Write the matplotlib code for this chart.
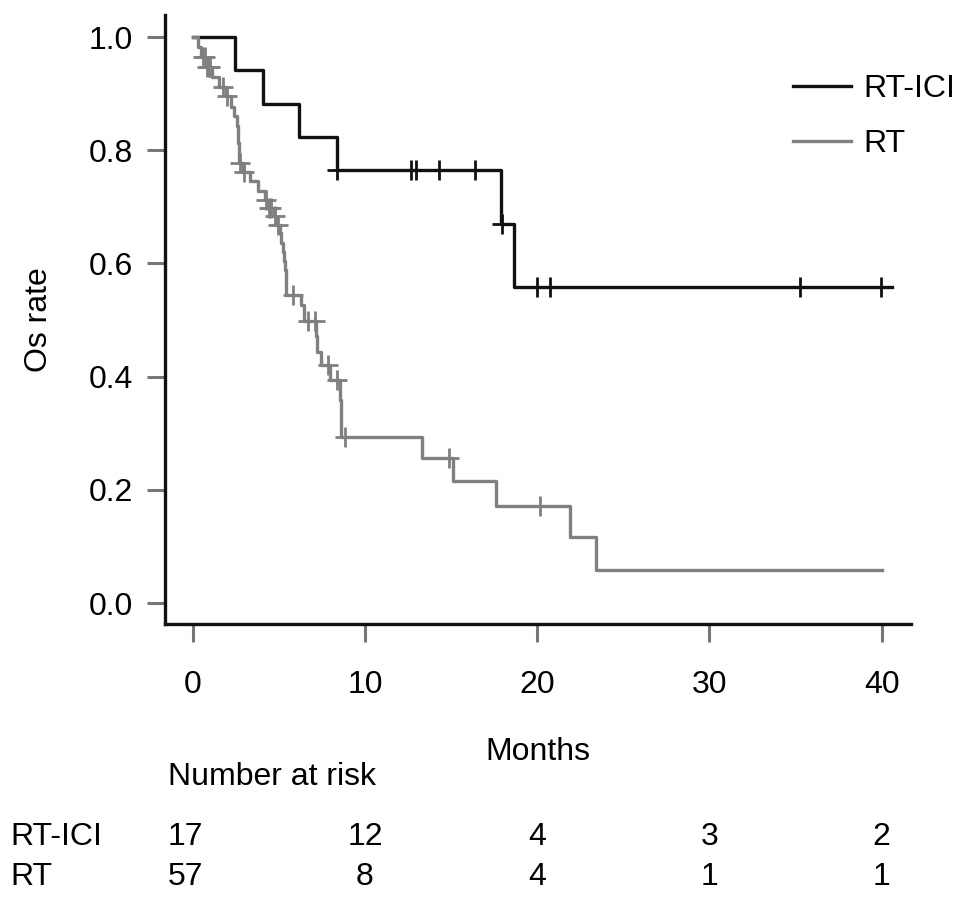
import numpy as np
import matplotlib
matplotlib.use('Agg')
import matplotlib.pyplot as plt
from matplotlib.transforms import blended_transform_factory

plt.rcParams['font.family'] = ['Liberation Sans', 'DejaVu Sans']

# Kaplan-Meier steps (time in months, survival after step)
ici_times = [0.0, 2.44, 4.09, 6.16, 8.38, 17.9, 18.66]
ici_surv = [1.0, 0.941, 0.882, 0.824, 0.765, 0.669, 0.558]
ici_end = 40.6
ici_censor = [8.4, 12.66, 12.95, 14.3, 16.4, 17.96, 19.96, 20.77, 35.25, 39.95]

rt_times = [0.0, 0.3, 0.5, 0.8, 1.1, 1.5, 1.9, 2.2, 2.4, 2.55, 2.65, 2.7, 2.9,
            3.3, 3.8, 4.2, 4.35, 4.7, 4.85, 5.05, 5.15, 5.22, 5.3, 5.35, 5.4,
            6.3, 6.45, 7.18, 7.23, 7.47, 7.95, 8.54, 8.63, 13.3, 15.1, 17.6,
            21.9, 23.4]
rt_surv = [1.0, 0.982, 0.965, 0.947, 0.930, 0.912, 0.895, 0.877, 0.860, 0.842,
           0.812, 0.777, 0.761, 0.745, 0.728, 0.712, 0.698, 0.683, 0.668, 0.653,
           0.637, 0.620, 0.604, 0.588, 0.544, 0.527, 0.499, 0.472, 0.444, 0.420,
           0.394, 0.359, 0.294, 0.257, 0.216, 0.171, 0.116, 0.058]
rt_end = 40.0
rt_censor = [0.6, 0.7, 0.85, 0.95, 1.0, 1.75, 2.0, 2.75, 3.0, 4.25, 4.4, 4.55,
             4.75, 4.95, 5.8, 6.7, 7.1, 7.85, 8.4, 8.86, 14.9, 20.15]

groups = ['RT-ICI', 'RT']
risk_times = [0, 10, 20, 30, 40]
risk_ici = [17, 12, 4, 3, 2]
risk_rt = [57, 8, 4, 1, 1]

ici_color = '#111111'
rt_color = '#808080'
fs = 23

fig = plt.figure(figsize=(9.69, 9.01), dpi=100)
ax = fig.add_axes([0.170, 0.3074, 0.770, 0.676])


def draw_km(times, surv, end, censor, color, label):
    t = np.array(times + [end])
    s = np.array(surv + [surv[-1]])
    ax.step(t, s, where='post', color=color, lw=2.4, label=label)
    idx = np.searchsorted(np.array(times), censor, side='right') - 1
    cy = np.array(surv)[idx]
    ax.plot(censor, cy, linestyle='none', marker='+', ms=15, mew=2.0,
            color=color)


draw_km(ici_times, ici_surv, ici_end, ici_censor, ici_color, groups[0])
draw_km(rt_times, rt_surv, rt_end, rt_censor, rt_color, groups[1])

ax.set_xlim(-1.63, 41.7)
ax.set_ylim(-0.037, 1.039)
ax.set_xticks([0, 10, 20, 30, 40])
ax.set_yticks([0.0, 0.2, 0.4, 0.6, 0.8, 1.0])
ax.set_yticklabels(['%.1f' % v for v in [0.0, 0.2, 0.4, 0.6, 0.8, 1.0]])
ax.tick_params(axis='both', labelsize=fs, length=13, width=2.2,
               color='#777777', pad=10, direction='out')
ax.tick_params(axis='x', pad=20)

for side in ['top', 'right']:
    ax.spines[side].set_visible(False)
for side in ['left', 'bottom']:
    ax.spines[side].set_linewidth(2.4)
    ax.spines[side].set_color('#111111')

ax.set_ylabel('Os rate', fontsize=fs)
ax.yaxis.set_label_coords(-0.168, 0.5)
ax.yaxis.label.set_va('center')
ax.set_xlabel('Months', fontsize=fs)
ax.xaxis.set_label_coords(0.5, -0.21)
ax.xaxis.label.set_va('center')

ax.legend(loc='upper left', bbox_to_anchor=(0.8184, 0.918),
          bbox_transform=fig.transFigure, frameon=False, fontsize=fs,
          handlelength=1.8, handletextpad=0.4, labelspacing=0.78,
          borderpad=0, borderaxespad=0)

# Number at risk table
tr = blended_transform_factory(ax.transData, fig.transFigure)
fig.text(168 / 969, 0.1376, 'Number at risk', fontsize=fs, va='center',
         ha='left')
fig.text(10 / 969, 0.0710, groups[0], fontsize=fs, va='center', ha='left')
fig.text(10 / 969, 0.0266, groups[1], fontsize=fs, va='center', ha='left')
for t, a, b in zip(risk_times, risk_ici, risk_rt):
    xt = t if t > 0 else -0.45
    ax.text(xt, 0.0710, str(a), transform=tr, fontsize=fs, ha='center',
            va='center', clip_on=False)
    ax.text(xt, 0.0266, str(b), transform=tr, fontsize=fs, ha='center',
            va='center', clip_on=False)

fig.savefig('out.png', dpi=100)
